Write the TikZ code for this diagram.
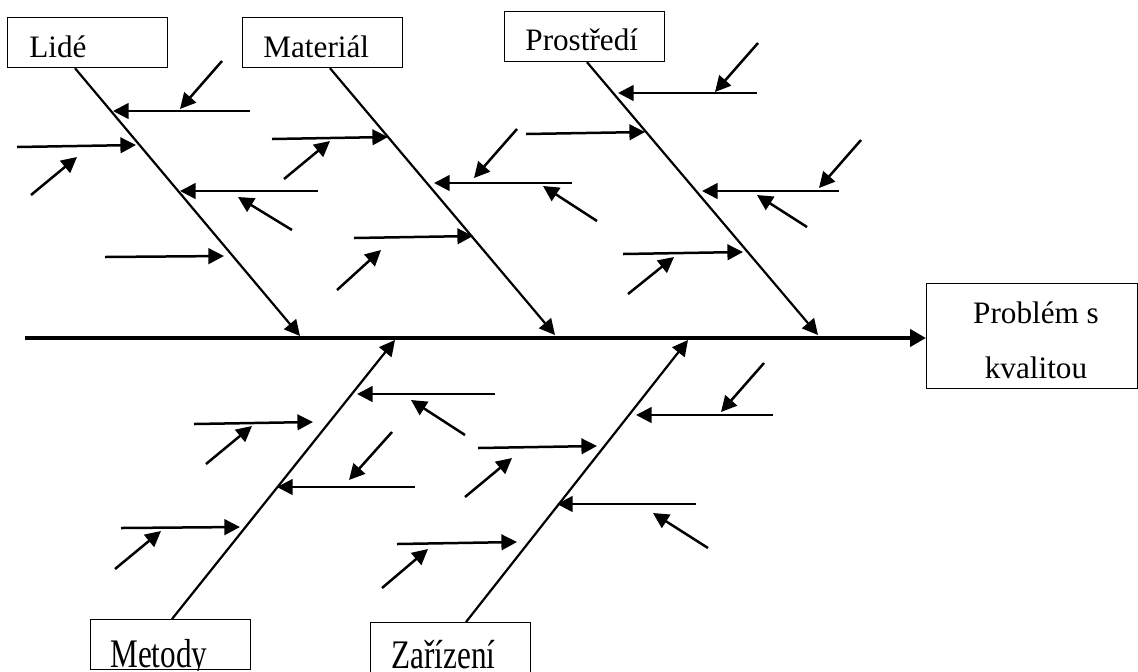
\documentclass[tikz,border=0pt]{standalone}
\usepackage{fontspec}
\setmainfont{Liberation Serif}
\usetikzlibrary{arrows.meta,calc}
\begin{document}
\begin{tikzpicture}[x=0.5pt,y=-0.5pt,
  catbox/.style={draw, line width=0.6pt, inner sep=0pt, minimum width=80pt,
                 minimum height=25pt, anchor=north west},
  catlabel/.style={inner sep=0pt, anchor=base west,
                   font=\fontsize{15.6}{18}\selectfont},
  effectlabel/.style={inner sep=0pt, anchor=base,
                   font=\fontsize{15.6}{18}\selectfont},
  bone/.style={line width=1.1pt, -{Triangle[length=7.8pt,width=7.8pt]}},
  twig/.style={line width=1.25pt, -{Triangle[length=7.8pt,width=7.8pt]}},
  spine/.style={line width=2.2pt, -{Triangle[length=8pt,width=8.5pt]}},
]
\useasboundingbox (0,0) rectangle (1138,671);

% cause categories (upper row)
\node[catbox] (lide) at (7,17) {};
\node[catlabel] (lidetext) at (29,57) {Lidé};
\node[catbox] (material) at (242,17) {};
\node[catlabel] (materialtext) at (263,57) {Materiál};
\node[catbox] (prostredi) at (504,11) {};
\node[catlabel] (prostreditext) at (525,50) {Prostředí};

% cause categories (lower row)
\node[catbox] (metody) at (90,619) {};
\begin{scope}
  \clip (metody.north west) rectangle (metody.south east);
  \node[catlabel] (metodytext) at (110,667) {\scalebox{1}[1.3]{Metody}};
\end{scope}
\node[catbox] (zarizeni) at (370,622) {};
\node[catlabel] (zarizenitext) at (391,668) {\scalebox{1}[1.3]{Zařízení}};

% effect
\node[draw, line width=0.6pt, inner sep=0pt, minimum width=105.5pt,
      minimum height=52.5pt, anchor=north west] (problem) at (926,283) {};
\node[effectlabel] (problemtop) at (1036,323) {Problém s};
\node[effectlabel] (problembottom) at (1036,378) {kvalitou};

% spine
\coordinate (tail) at (25,338);
\draw[spine] (tail) -- (tail -| problem.west);

% main bones, each ending on the spine
\coordinate (jl) at (300,336);
\coordinate (jm) at (555,335);
\coordinate (jp) at (818,335);
\coordinate (jd) at (395,340);
\coordinate (jz) at (688,340);
\draw[bone] ($(lide.south west)+(68,0)$) -- (jl);
\draw[bone] ($(material.south west)+(88,0)$) -- (jm);
\draw[bone] ($(prostredi.south west)+(83,0)$) -- (jp);
\draw[bone] ($(metody.north west)+(82,0)$) -- (jd);
\draw[bone] ($(zarizeni.north west)+(96,0)$) -- (jz);

% sub-causes and their contributing arrows
\foreach \n/\ax/\ay/\bx/\by in {
  L1h/250/111/113/111, L1d/222/61/180/109,
  L2h/17/147/136/145,  L2d/31/195/77/157,
  L3h/318/191/180/191, L3d/292/230/238/197,
  L4h/105/257/224/256,
  M1h/272/139/388/137, M1d/284/179/330/141,
  M2h/572/183/434/183, M2d/517/129/474/178, M2e/597/221/543/186,
  M3h/354/238/473/236, M3d/337/290/381/250,
  P1h/757/93/618/93,   P1d/758/43/715/92,
  P2h/526/134/645/132,
  P3h/839/191/702/191, P3d/861/140/819/188, P3e/807/227/757/195,
  P4h/623/254/743/252, P4d/628/294/674/257,
  D1h/495/394/357/394, D1d/465/435/411/400,
  D2h/194/424/313/422, D2d/206/464/252/426,
  D3h/415/487/277/487, D3d/392/432/349/480,
  D4h/121/528/240/527, D4d/115/569/161/531,
  Z1h/773/415/636/415, Z1d/764/363/721/412,
  Z2h/478/448/597/446, Z2d/465/497/512/458,
  Z3h/696/504/557/504, Z3d/708/548/653/513,
  Z4h/397/544/517/542, Z4d/382/588/428/549}
{
  \coordinate (\n-s) at (\ax,\ay);
  \coordinate (\n-e) at (\bx,\by);
  \draw[twig] (\n-s) -- (\n-e);
}
\end{tikzpicture}
\end{document}
